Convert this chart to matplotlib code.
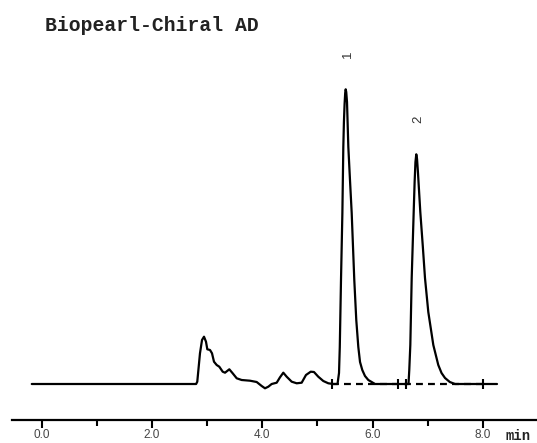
import matplotlib
matplotlib.use("Agg")
import matplotlib.pyplot as plt

# ---- data (time in min, signal in arbitrary units) ----
time_min = [-0.18, 2.80, 2.821, 2.870, 2.907, 2.943, 2.979, 3.003, 3.052, 3.088,
            3.124, 3.173, 3.220, 3.282, 3.324, 3.402, 3.463, 3.536, 3.626, 3.777,
            3.898, 3.989, 4.049, 4.109, 4.170, 4.261, 4.321, 4.381, 4.442, 4.533,
            4.624, 4.714, 4.792, 4.878, 4.937, 5.015, 5.106, 5.197, 5.287, 5.364,
            5.391, 5.405, 5.427, 5.452, 5.469, 5.480, 5.492, 5.503, 5.512, 5.522,
            5.536, 5.560, 5.590, 5.621, 5.668, 5.704, 5.741, 5.772, 5.813, 5.862,
            5.922, 6.044,
            6.651, 6.665, 6.684, 6.709, 6.745, 6.762, 6.777, 6.792, 6.806, 6.822,
            6.865, 6.910, 6.950, 7.010, 7.101, 7.191, 7.250, 7.313, 7.400, 7.494,
            8.256]
signal = [0, 0, 2.3, 30.7, 44, 47.3, 42.3, 34.7, 34, 30.7,
          22.3, 19, 17.3, 12.3, 11.3, 14.7, 10.7, 5.7, 4, 3.3,
          2, -2, -4.3, -2.7, 0, 1.3, 6.7, 11.3, 7.3, 2.3,
          0.7, 1.3, 9, 12.3, 12, 7.3, 3, 0.7, 0, 0,
          11, 37, 104, 171, 237, 262, 280, 291, 294.7, 292,
          282, 237, 204, 171, 104, 64, 37, 22, 14, 8,
          4, 0,
          0, 14, 39, 106, 172, 202, 222, 229.7, 225, 212,
          172, 138, 106, 72, 39, 19, 11, 6, 2, 0,
          0]

integration_start = 5.26
integration_end = 8.01
integration_marks = [5.26, 6.46, 6.61, 8.01]

peak_labels = ["1", "2"]
peak_times = [5.512, 6.792]
peak_heights = [294.7, 229.7]

major_ticks = [0, 2, 4, 6, 8]
major_labels = ["0.0", "2.0", "4.0", "6.0", "8.0"]
minor_ticks = [1, 3, 5, 7]

title = "Biopearl-Chiral AD"
unit_label = "min"

# ---- figure ----
W, H = 537, 443
fig = plt.figure(figsize=(W / 100, H / 100), dpi=100)
ax = fig.add_axes([12 / W, (H - 420) / H, 525 / W, 384 / H])
ax.set_xlim(-0.5385, 8.981)
ax.set_ylim(-36, 348)

ax.plot([integration_start, integration_end], [0, 0], color="black",
        lw=1.6, ls=(0, (3.1, 2.3)), zorder=2)
ax.plot(integration_marks, [0] * len(integration_marks), ls="none",
        marker="|", markersize=7, markeredgewidth=1.5, color="black", zorder=3)
ax.plot(time_min, signal, color="black", lw=1.6, solid_joinstyle="round",
        solid_capstyle="round", zorder=4)

for lab, t, h in zip(peak_labels, peak_times, peak_heights):
    ax.annotate(lab, xy=(t, h), xytext=(1.5, 25.5), textcoords="offset points",
                ha="center", va="center", rotation=90, fontsize=9.5,
                family="Liberation Sans", color="#333333")

for s in ["top", "left", "right"]:
    ax.spines[s].set_visible(False)
ax.spines["bottom"].set_linewidth(1.6)
ax.set_yticks([])
ax.set_xticks(major_ticks)
ax.set_xticklabels(major_labels)
ax.set_xticks(minor_ticks, minor=True)
ax.tick_params(axis="x", which="major", direction="out", length=6, width=1.5,
               labelsize=8.5, pad=0.5, labelcolor="#444444")
ax.tick_params(axis="x", which="minor", direction="out", length=4.2, width=1.5)
for lbl in ax.get_xticklabels():
    lbl.set_family("Liberation Sans")

fig.text(506 / W, 1 - 440 / H, unit_label, ha="left", va="baseline",
         fontsize=10, family="Liberation Mono", fontweight="bold",
         color="#222222")

fig.text(45 / W, 1 - 31 / H, title, ha="left", va="baseline", fontsize=14.2,
         family="Liberation Mono", fontweight="bold", color="#222222")

fig.savefig("out.png", dpi=100)
